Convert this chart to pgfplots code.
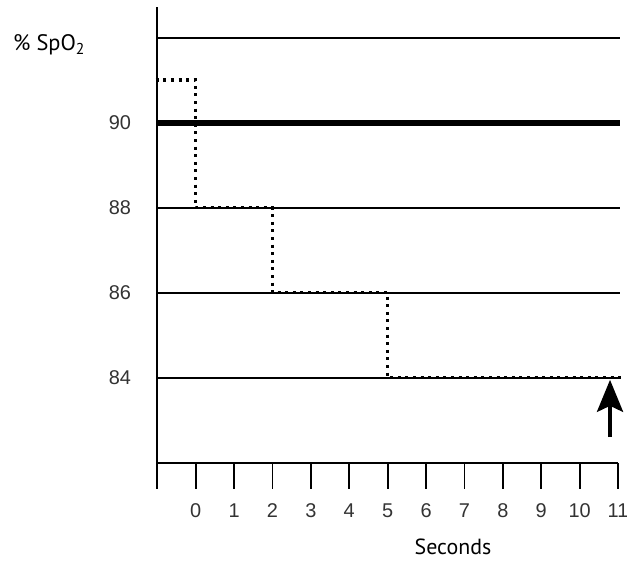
\documentclass[border=0pt]{standalone}
\usepackage{pgfplots}
\pgfplotsset{compat=1.18}
\usepackage{fontspec}
\setmainfont{PT Sans}
\newfontfamily\numfont{Liberation Sans}
\usetikzlibrary{arrows.meta}
\definecolor{ticktxt}{HTML}{333333}
\begin{document}
\begin{tikzpicture}
\begin{axis}[
  x=38.4bp, y=42.5bp,
  xmin=-1, xmax=11, ymin=82, ymax=92.73,
  axis x line=bottom, axis y line=left,
  axis line style={-, line width=1.8bp, black},
  clip=false,
  xtick={-1,0,...,11},
  xticklabels={,0,1,2,3,4,5,6,7,8,9,10,11},
  ytick={84,86,88,90},
  tick align=outside,
  major tick length=26bp,
  xtick style={line width=1.8bp, black},
  ytick style={draw=none},
  /pgf/number format/assume math mode=true,
  ticklabel style={font=\numfont\fontsize{20}{20}\selectfont, text=ticktxt},
  xticklabel style={anchor=center, yshift=-22bp},
  yticklabel style={anchor=east, inner sep=0pt, xshift=0bp},
]
% reference lines
\draw[line width=1.8bp] (axis cs:-1,92) -- (axis cs:11.05,92);
\draw[line width=1.8bp] (axis cs:-1,88) -- (axis cs:11.05,88);
\draw[line width=1.8bp] (axis cs:-1,86) -- (axis cs:11.05,86);
\draw[line width=1.8bp] (axis cs:-1,84) -- (axis cs:11.05,84);
\draw[line width=6bp] (axis cs:-1,90) -- (axis cs:11.05,90);
% SpO2 trace
\addplot[const plot, draw=black, no marks, style={line width=3.5bp, line cap=butt,
  dash pattern=on 3bp off 4.6bp}] coordinates {
  (-1.04,91) (0,88) (2,86) (5,84) (11.18,84)};
% arrow
\draw[line width=4bp, -{Stealth[length=32bp,width=26bp,inset=6bp]}]
  (axis cs:10.79,82.6) -- (axis cs:10.79,83.95);
% labels
\node[anchor=west, inner sep=0pt, font=\fontsize{22.5}{22.5}\selectfont]
  at (axis cs:-4.757,91.83) {\%~SpO\textsubscript{2}};
\node[anchor=center, inner sep=0pt, font=\fontsize{22}{22}\selectfont]
  at (axis cs:6.70,80.03) {Seconds};
\coordinate (bl) at (axis cs:-5.096,79.71);
\coordinate (tr) at (axis cs:11.232,92.887);
\end{axis}
\pgfresetboundingbox
\path[use as bounding box] (bl) rectangle (tr);
\end{tikzpicture}
\end{document}
